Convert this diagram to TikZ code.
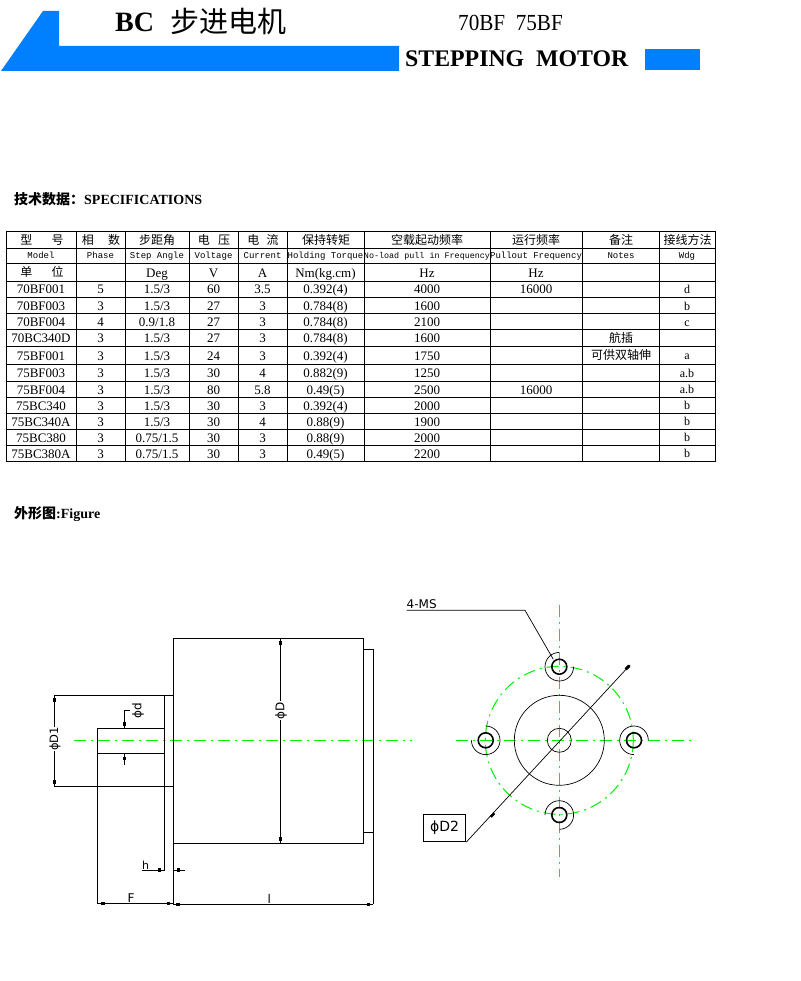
\documentclass[tikz,border=0pt]{standalone}
\usepackage{fontspec}
\setmainfont{Liberation Serif}
\setmonofont{Liberation Mono}
\newfontfamily\cjk{Noto Sans CJK SC}
\newfontfamily\cadfont{DejaVu Sans}
\usepackage{xcolor}
\usetikzlibrary{positioning}
\definecolor{barblue}{HTML}{0080FF}
\definecolor{axisgreen}{HTML}{00F000}
\tikzset{
  cell/.style={inner sep=0pt,text height=10pt,text depth=0pt,font=\fontsize{13}{14}\selectfont},
  headcell/.style={inner sep=0pt,font=\fontsize{12}{13}\selectfont\cjk},
  subcell/.style={inner sep=0pt,text height=6.5pt,text depth=0.5pt,font=\fontsize{9}{10}\selectfont\ttfamily},
  tabline/.style={black,line width=0.9pt},
  partline/.style={black,line width=1pt},
  thinline/.style={black,line width=0.7pt},
  axisline/.style={axisgreen,line width=1pt,dash pattern=on 12pt off 5pt on 2pt off 5pt},
  dimmark/.style={fill=black,inner sep=0pt,minimum size=3.5pt},
  cadtext/.style={inner sep=0pt,font=\fontsize{12}{13}\selectfont\cadfont},
}
\begin{document}
\begin{tikzpicture}[x=1pt,y=-1pt]
\useasboundingbox (0,0) rectangle (800,981);

% title band
\fill[barblue] (1,71)--(43,11)--(59,11)--(59,46)--(399,46)--(399,71)--cycle;
\fill[barblue] (645,49) rectangle (700,70);
\node[anchor=west,inner sep=0pt,font=\fontsize{28}{30}\selectfont\bfseries] (bc) at (115,22) {BC};
\node[anchor=west,inner sep=0pt,font=\fontsize{29}{30}\selectfont\cjk] (titlecn) at (170,21) {步进电机};
\node[anchor=west,inner sep=0pt,xscale=0.92,font=\fontsize{23}{24}\selectfont] (types) at (458,23) {70BF\ \ 75BF};
\node[anchor=west,inner sep=0pt,font=\fontsize{23.8}{25}\selectfont\bfseries] (titleen) at (405,59) {STEPPING\ \ MOTOR};

\node[anchor=west,inner sep=0pt,font=\fontsize{14}{15}\selectfont\bfseries] (spec) at (14,199) {{\cjk 技术数据：}SPECIFICATIONS};
\node[anchor=west,inner sep=0pt,font=\fontsize{14}{15}\selectfont\bfseries] (figure) at (14,514) {{\cjk 外形图}:Figure};

% table lines
\foreach \y in {231,248,263,281,297,313,329,346,364,381,397,413,429,445,461}
  \draw[tabline] (6,\y)--(715.5,\y);
\foreach \x in {6,76,125,189,238,287,364,490,582.5,659,715.5}
  \draw[tabline] (\x,231)--(\x,461);

% table heads
\node[headcell] (h1) at (42,239.5) {型\hspace{1.6em}号};
\node[headcell] (h2) at (101,239.5) {相\hspace{1.2em}数};
\node[headcell] (h3) at (157,239.5) {步距角};
\node[headcell] (h4) at (214,239.5) {电\hspace{0.7em}压};
\node[headcell] (h5) at (263,239.5) {电\hspace{0.6em}流};
\node[headcell] (h6) at (326,239.5) {保持转矩};
\node[headcell] (h7) at (427,239.5) {空载起动频率};
\node[headcell] (h8) at (536,239.5) {运行频率};
\node[headcell] (h9) at (621,239.5) {备注};
\node[headcell] (h10) at (687.5,239.5) {接线方法};

\node[subcell] (s1) at (41,255.5) {Model};
\node[subcell] (s2) at (100.5,255.5) {Phase};
\node[subcell] (s3) at (157,255.5) {Step Angle};
\node[subcell] (s4) at (213.5,255.5) {Voltage};
\node[subcell] (s5) at (262.5,255.5) {Current};
\node[subcell] (s6) at (325.5,255.5) {Holding Torque};
\node[subcell,font=\fontsize{8.4}{10}\selectfont\ttfamily] (s7) at (427,255.5) {No-load pull in Frequency};
\node[subcell] (s8) at (536,255.5) {Pullout Frequency};
\node[subcell] (s9) at (621,255.5) {Notes};
\node[subcell] (s10) at (687,255.5) {Wdg};

\node[headcell] (u1) at (42,272) {单\hspace{1.6em}位};
\node[cell] (u3) at (157,272.5) {Deg};
\node[cell] (u4) at (213.5,272.5) {V};
\node[cell] (u5) at (262.5,272.5) {A};
\node[cell] (u6) at (325.5,272.5) {Nm(kg.cm)};
\node[cell] (u7) at (427,272.5) {Hz};
\node[cell] (u8) at (536,272.5) {Hz};

% table data
\foreach \y/\ca/\cb/\cc/\cd/\ce/\cf/\cg [count=\i] in {
  289/70BF001/5/1.5\slash 3/60/3.5/0.392(4)/4000,
  305/70BF003/3/1.5\slash 3/27/3/0.784(8)/1600,
  321/70BF004/4/0.9\slash 1.8/27/3/0.784(8)/2100,
  337.5/70BC340D/3/1.5\slash 3/27/3/0.784(8)/1600,
  355/75BF001/3/1.5\slash 3/24/3/0.392(4)/1750,
  372.5/75BF003/3/1.5\slash 3/30/4/0.882(9)/1250,
  389/75BF004/3/1.5\slash 3/80/5.8/0.49(5)/2500,
  405/75BC340/3/1.5\slash 3/30/3/0.392(4)/2000,
  421/75BC340A/3/1.5\slash 3/30/4/0.88(9)/1900,
  437/75BC380/3/0.75\slash 1.5/30/3/0.88(9)/2000,
  453/75BC380A/3/0.75\slash 1.5/30/3/0.49(5)/2200}{
  \node[cell] (m\i) at (41,\y) {\ca};
  \node[cell] (p\i) at (100.5,\y) {\cb};
  \node[cell] (a\i) at (157,\y) {\cc};
  \node[cell] (v\i) at (213.5,\y) {\cd};
  \node[cell] (c\i) at (262.5,\y) {\ce};
  \node[cell] (t\i) at (325.5,\y) {\cf};
  \node[cell] (f\i) at (427,\y) {\cg};
}
\node[cell] (pull1) at (536,289) {16000};
\node[cell] (pull7) at (536,389) {16000};
\node[headcell] (note4) at (621,337.5) {航插};
\node[headcell] (note5) at (621,355) {可供双轴伸};
\foreach \y/\w [count=\i] in {289/d,305/b,321/c,354/a,372/a.b,388.5/a.b,404.5/b,420.5/b,436.5/b,452.5/b}
  \node[cell,font=\fontsize{12}{13}\selectfont] (w\i) at (687,\y) {\w};

% side view
\draw[axisline] (74,740.3)--(412,740.3);
\draw[partline] (173.3,638) rectangle (363.3,843);
\draw[partline] (363.3,649)--(373.3,649);
\draw[partline] (363.3,832)--(373.3,832);
\draw[partline] (373.3,649)--(373.3,904.3);
\draw[partline] (173.3,843)--(173.3,904.3)--(373.3,904.3);
\draw[partline] (54.3,695.3)--(173.3,695.3);
\draw[partline] (54.3,786)--(173.3,786);
\draw[partline] (164.7,695.3)--(164.7,870);
\draw[partline] (97.3,728.3) rectangle (164.7,753.3);
\draw[partline] (97.3,753.3)--(97.3,903.3)--(173.3,903.3);

% dimensions, side view
\node[cadtext,rotate=90,font=\fontsize{11.5}{13}\selectfont\cadfont] (dDone) at (55,739) {ϕD1};
\draw[partline] (54.3,695.3)--(54.3,727);
\draw[partline] (54.3,751)--(54.3,786);
\node[dimmark] (mk1) at (54.3,700) {};
\node[dimmark] (mk2) at (54.3,782) {};

\node[cadtext,rotate=90] (dd) at (138,710.5) {ϕd};
\draw[partline] (130,710)--(124.3,710)--(124.3,728.3);
\draw[partline] (124.3,753.3)--(124.3,765);
\node[dimmark] (mk3) at (124.3,724) {};
\node[dimmark] (mk4) at (124.3,758.3) {};

\node[cadtext,rotate=90] (dD) at (281,710.5) {ϕD};
\draw[partline] (280.3,638)--(280.3,701);
\draw[partline] (280.3,720)--(280.3,843);
\node[dimmark] (mk5) at (280.3,643) {};
\node[dimmark] (mk6) at (280.3,839) {};

\node[cadtext,anchor=base west,font=\fontsize{11}{12}\selectfont\cadfont] (hh) at (142,869) {h};
\draw[partline] (142,870)--(164.7,870);
\draw[partline] (173.3,870)--(185,870);
\node[dimmark] (mk7) at (159.7,870) {};
\node[dimmark] (mk8) at (178.3,870) {};

\node[cadtext,anchor=base west] (ff) at (127.5,902.5) {F};
\node[dimmark] (mk9) at (103,903.3) {};
\node[dimmark] (mk10) at (168.7,903.3) {};

\node[cadtext,anchor=base] (ll) at (269.3,903.5) {l};
\node[dimmark] (mk11) at (178,904.3) {};
\node[dimmark] (mk12) at (368.7,904.3) {};

% end view
\coordinate (cen) at (559.3,740.3);
\draw[axisline] (456,740.3)--(694,740.3);
\draw[axisline] (559.3,605)--(559.3,877);
\draw[axisline] (cen) circle (74);
\draw[thinline] (cen) circle (45);
\draw[thinline] (cen) circle (12);

\foreach \hx/\hy/\st/\en in {559.3/666.7/90/360,485.7/740.3/180/450,634/740.3/0/270,559.3/815/-90/180}{
  \draw[black,line width=1.6pt] (\hx,\hy) circle (7.5);
  \draw[thinline] (\hx,\hy) ++(\st:14.3pt) arc[start angle=\st,end angle=\en,radius=14.3pt];
}

% leaders, end view
\node[cadtext,anchor=base west] (ms) at (406.5,608.5) {4-MS};
\coordinate (msa) at (406.7,610.3);
\coordinate (msb) at (525,610.3);
\coordinate (msc) at (553.3,659.3);
\draw[thinline] (msa)--(msb)--(msc);

\node[draw=black,line width=1pt,minimum width=42.4pt,minimum height=27.4pt,inner sep=0pt,font=\fontsize{14}{15}\selectfont\cadfont] (dtwo) at (444.5,828) {ϕD2};
\coordinate (diaend) at (630,665);
\draw[thinline] (dtwo.south east)--(diaend);
\node[dimmark,rotate=45,minimum width=5pt,minimum height=3pt] (mk13) at (627.5,667.5) {};
\node[dimmark,rotate=45,minimum width=5pt,minimum height=2.5pt] (mk14) at (492.5,815) {};
\end{tikzpicture}
\end{document}
